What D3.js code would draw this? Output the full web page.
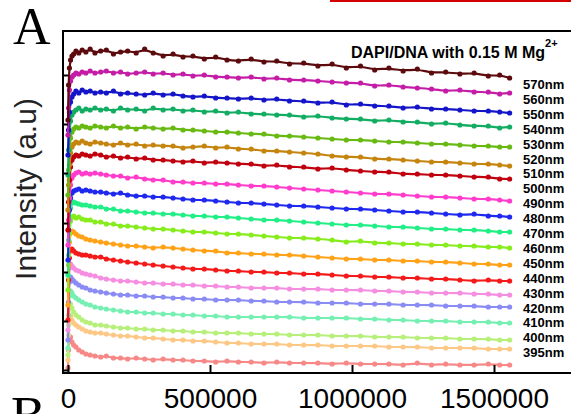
<html>
<head>
<script src="https://d3js.org/d3.v7.min.js"></script>
<style>
    body { margin: 0; background: #fff; }
    text { font-family: "Liberation Sans", Arial, sans-serif; }
    .axis .domain { stroke: none; }
    .axis line { stroke: #000; stroke-width: 2; }
</style>
</head>
<body>
<svg id="chart" width="571" height="414"></svg>
<script>
    // time points (s) shared by all traces
    const times = [0, 2000, 5000, 9000, 14000, 20000, 28000, 38000, 50000, 63000,
        78000, 95000, 115000, 135000, 160000, 185000, 210000, 240000, 270000, 300000,
        335000, 370000, 405000, 440000, 480000, 520000, 560000, 600000, 645000, 690000,
        735000, 780000, 830000, 880000, 930000, 980000, 1030000, 1080000, 1130000, 1180000,
        1230000, 1280000, 1330000, 1380000, 1430000, 1480000, 1520000, 1555000];

    // intensity (a.u.), top to bottom
    const i570 = [250, 285, 302, 310, 314, 316, 319, 317, 320, 318, 321, 317, 319, 320, 316, 318, 319, 317, 321, 317, 314, 316, 313, 314, 311, 313, 310, 309, 311, 308, 309, 306, 307, 304, 306, 302, 304, 300, 302, 299, 301, 297, 298, 296, 297, 294, 295, 292];
    const i560 = [235, 262, 280, 289, 293, 295, 297, 296, 298, 297, 299, 297, 298, 299, 297, 298, 296, 297, 298, 296, 297, 295, 296, 294, 295, 293, 293, 292, 293, 291, 292, 290, 290, 289, 288, 287, 287, 284, 285, 283, 282, 281, 279, 280, 278, 278, 276, 277];
    const i550 = [215, 240, 258, 268, 273, 276, 279, 277, 280, 278, 279, 277, 278, 277, 279, 276, 277, 276, 275, 277, 275, 276, 274, 273, 274, 272, 272, 271, 272, 270, 271, 269, 269, 267, 268, 265, 266, 264, 264, 262, 263, 261, 261, 260, 259, 259, 258, 257];
    const i540 = [195, 220, 238, 249, 255, 258, 260, 262, 259, 261, 260, 262, 260, 261, 259, 262, 260, 261, 259, 262, 260, 261, 259, 260, 258, 259, 257, 258, 256, 256, 255, 255, 253, 254, 252, 251, 251, 249, 250, 248, 248, 246, 247, 245, 244, 244, 242, 243];
    const i530 = [175, 200, 220, 232, 238, 241, 243, 242, 244, 243, 242, 244, 243, 242, 244, 242, 243, 241, 243, 242, 241, 242, 240, 240, 239, 238, 238, 237, 236, 236, 234, 234, 233, 232, 231, 230, 230, 229, 228, 228, 227, 226, 226, 225, 224, 224, 223, 223];
    const i520 = [160, 185, 205, 217, 223, 226, 228, 227, 229, 227, 226, 228, 227, 226, 225, 227, 225, 226, 224, 225, 224, 224, 222, 223, 224, 222, 223, 221, 221, 219, 219, 218, 217, 216, 214, 213, 213, 211, 211, 210, 209, 208, 208, 207, 206, 206, 205, 204];
    const i510 = [140, 168, 190, 203, 210, 213, 215, 214, 216, 215, 214, 216, 215, 213, 214, 212, 213, 211, 212, 210, 210, 209, 208, 209, 207, 208, 207, 206, 206, 204, 205, 203, 203, 201, 202, 200, 199, 198, 198, 196, 196, 195, 195, 194, 193, 193, 191, 191];
    const i500 = [125, 150, 172, 185, 192, 195, 197, 198, 196, 197, 196, 197, 196, 195, 194, 194, 192, 193, 191, 190, 190, 188, 188, 187, 187, 186, 186, 185, 184, 184, 183, 182, 181, 180, 179, 178, 177, 176, 176, 175, 174, 173, 173, 172, 171, 171, 170, 169];
    const i490 = [110, 140, 160, 172, 177, 179, 180, 181, 179, 180, 179, 178, 178, 177, 176, 177, 175, 174, 174, 173, 173, 172, 171, 170, 170, 169, 168, 167, 167, 166, 165, 164, 164, 163, 162, 161, 161, 160, 159, 158, 158, 157, 156, 155, 156, 154, 154, 153];
    const i480 = [95, 130, 150, 162, 167, 168, 167, 166, 165, 165, 164, 163, 163, 161, 161, 159, 159, 158, 157, 157, 156, 156, 155, 154, 154, 153, 153, 152, 151, 150, 150, 149, 148, 147, 146, 145, 145, 144, 143, 143, 142, 141, 141, 140, 140, 139, 138, 138];
    const i470 = [80, 115, 137, 149, 153, 154, 152, 153, 151, 150, 150, 148, 148, 146, 146, 144, 144, 143, 142, 141, 141, 140, 139, 138, 138, 137, 136, 136, 135, 134, 133, 132, 132, 131, 130, 128, 129, 127, 127, 126, 126, 125, 125, 124, 124, 123, 123, 122];
    const i460 = [65, 105, 128, 137, 139, 138, 136, 134, 133, 131, 130, 129, 128, 127, 126, 125, 124, 124, 123, 122, 123, 122, 121, 120, 119, 119, 117, 117, 116, 116, 115, 115, 114, 113, 112, 111, 111, 110, 110, 109, 109, 108, 108, 107, 106, 106, 105, 105];
    const i450 = [50, 90, 112, 120, 121, 119, 117, 116, 115, 115, 114, 113, 113, 111, 110, 109, 108, 107, 106, 105, 104, 103, 102, 101, 101, 100, 99, 99, 98, 98, 97, 97, 96, 96, 95, 94, 94, 93, 93, 92, 92, 91, 91, 90, 89, 90, 89, 89];
    const i440 = [40, 80, 102, 106, 104, 102, 100, 99, 97, 96, 95, 94, 92, 91, 90, 89, 89, 88, 87, 87, 86, 86, 85, 85, 84, 84, 83, 83, 82, 82, 82, 81, 81, 81, 80, 80, 80, 79, 79, 78, 78, 77, 77, 77, 76, 76, 75, 75];
    const i430 = [30, 68, 88, 93, 91, 89, 87, 85, 83, 82, 80, 79, 78, 77, 76, 75, 75, 74, 74, 73, 73, 72, 72, 71, 71, 70, 70, 70, 69, 69, 68, 68, 68, 67, 67, 67, 66, 66, 66, 65, 65, 65, 64, 64, 64, 63, 63, 63];
    const i420 = [22, 55, 74, 79, 77, 74, 72, 70, 68, 66, 65, 63, 62, 61, 60, 59, 58, 58, 57, 57, 56, 56, 55, 55, 54, 54, 53, 53, 53, 53, 53, 53, 52, 52, 52, 52, 51, 51, 50, 50, 49, 49, 49, 48, 48, 48, 47, 47];
    const i410 = [15, 45, 62, 66, 62, 58, 55, 53, 50, 48, 47, 45, 45, 44, 43, 42, 42, 41, 41, 40, 40, 39, 39, 38, 38, 37, 37, 37, 36, 36, 36, 35, 35, 35, 34, 34, 34, 33, 33, 33, 32, 32, 32, 31, 31, 31, 30, 30];
    const i400 = [10, 35, 50, 54, 50, 47, 45, 43, 41, 39, 38, 37, 37, 36, 35, 34, 34, 33, 32, 32, 31, 30, 30, 29, 29, 28, 27, 27, 26, 26, 26, 25, 25, 25, 24, 24, 24, 24, 23, 23, 23, 22, 22, 22, 22, 21, 21, 21];
    const i395 = [2, 20, 32, 33, 28, 25, 23, 20, 18, 16, 15, 14, 13, 14, 12, 12, 11, 12, 11, 10, 11, 10, 10, 9, 9, 8, 9, 8, 8, 7, 8, 7, 7, 7, 6, 7, 6, 6, 6, 5, 7, 5, 6, 5, 5, 6, 5, 5];

    const traces = [i570, i560, i550, i540, i530, i520, i510, i500, i490, i480,
        i470, i460, i450, i440, i430, i420, i410, i400, i395];
    const labels = ["570nm", "560nm", "550nm", "540nm", "530nm", "520nm", "510nm", "500nm", "490nm", "480nm",
        "470nm", "460nm", "450nm", "440nm", "430nm", "420nm", "410nm", "400nm", "395nm"];
    const colors = ["#5c0a0e", "#c41ca6", "#1414c8", "#12ad62", "#68ba12", "#c4840e", "#c0000e", "#ff3ccc", "#1e28ee", "#22ee86",
        "#86ec1c", "#ffa218", "#f41a1a", "#f58ee0", "#8a8cf4", "#76f0b2", "#b6f07a", "#fdc886", "#f68888"];
    const xTicks = [0, 500000, 1000000, 1500000];
    const yTicks = [0, 49, 98, 147, 197, 246, 295];

    const svg = d3.select("svg#chart");

    const xScale = d3.scaleLinear().domain([0, 1500000]).range([68, 494]);
    const yScale = d3.scaleLinear().domain([0, 339]).range([370, 31]);

    // red strip at the top (figure edge)
    svg.append("rect").attr("x", 330).attr("y", 0).attr("width", 241).attr("height", 2).attr("fill", "#d40000");

    // panel letters
    svg.append("text").attr("x", 13).attr("y", 44)
        .style("font-family", "'Liberation Serif', 'Times New Roman', serif")
        .attr("font-size", 52).text("A");
    svg.append("text").attr("x", 11).attr("y", 433)
        .style("font-family", "'Liberation Serif', 'Times New Roman', serif")
        .attr("font-size", 52).text("B");

    // curves
    const line = d3.line()
        .x((d, i) => xScale(times[i]))
        .y(d => yScale(d))
        .curve(d3.curveBasis);

    const curves = svg.append("g");
    traces.slice().reverse().forEach((vals, k) => {
        const idx = traces.length - 1 - k;
        const g = curves.append("g");
        g.append("path")
            .attr("d", line(vals))
            .attr("fill", "none")
            .attr("stroke", colors[idx])
            .attr("stroke-width", 2.2);
        g.selectAll("circle").data(vals)
            .join("circle")
            .attr("cx", (d, i) => xScale(times[i]))
            .attr("cy", d => yScale(d))
            .attr("r", 2.6)
            .attr("fill", colors[idx]);
    });

    // frame
    svg.append("line").attr("x1", 63).attr("x2", 63).attr("y1", 30).attr("y2", 374)
        .attr("stroke", "#000").attr("stroke-width", 2);
    svg.append("line").attr("x1", 62).attr("x2", 571).attr("y1", 31).attr("y2", 31)
        .attr("stroke", "#000").attr("stroke-width", 2);
    svg.append("line").attr("x1", 62).attr("x2", 571).attr("y1", 373).attr("y2", 373)
        .attr("stroke", "#000").attr("stroke-width", 2);

    // axes
    const xAxis = d3.axisBottom(xScale).tickValues(xTicks).tickFormat(d3.format("d"))
        .tickSize(-8).tickPadding(15);
    svg.append("g").attr("class", "axis").attr("transform", "translate(0,373)").call(xAxis)
        .selectAll("text").attr("font-size", 28).attr("fill", "#000")
        .style("font-family", "'Liberation Sans', Arial, sans-serif");

    const yAxis = d3.axisLeft(yScale).tickValues(yTicks).tickFormat("").tickSize(-5);
    svg.append("g").attr("class", "axis").attr("transform", "translate(63,0)").call(yAxis);

    svg.append("text")
        .attr("transform", "translate(36,189) rotate(-90)")
        .attr("text-anchor", "middle")
        .attr("font-size", 30)
        .attr("fill", "#222")
        .text("Intensity (a.u)");

    // title
    const title = svg.append("text").attr("x", 351).attr("y", 58)
        .attr("font-size", 16).attr("font-weight", "bold");
    title.append("tspan").text("DAPI/DNA with 0.15 M Mg");
    title.append("tspan").attr("font-size", 11).attr("dy", -11).text("2+");

    // wavelength labels
    svg.selectAll("text.lab").data(labels)
        .join("text")
        .attr("class", "lab")
        .attr("x", 523)
        .attr("y", (d, i) => 89 + i * 14.9)
        .attr("font-size", 13)
        .attr("font-weight", "bold")
        .text(d => d);
</script>
</body>
</html>
